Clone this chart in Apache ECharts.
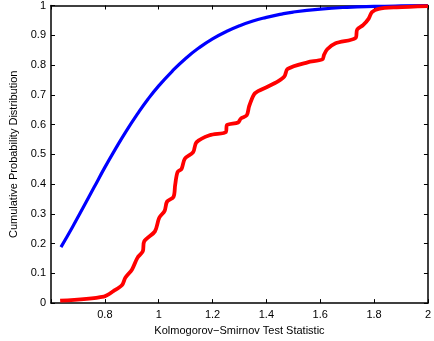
<!DOCTYPE html>
<html>
<head>
<meta charset="utf-8">
<script src="https://cdn.jsdelivr.net/npm/echarts@6/dist/echarts.min.js"></script>
<style>
html,body{margin:0;padding:0;background:#fff;}
#chart{width:434px;height:341px;}
</style>
</head>
<body>
<div id="chart"></div>
<script>
// Theoretical (blue) CDF: [statistic, cumulative probability]
var theoreticalX = [0.637,0.68,0.72,0.76,0.80,0.84,0.88,0.92,0.96,1.00,1.05,1.10,1.15,1.20,1.25,1.30,1.35,1.40,1.45,1.50,1.60,1.70,1.80,1.90,2.00];
var theoreticalY = [0.188,0.256,0.322,0.389,0.456,0.519,0.579,0.634,0.685,0.730,0.779,0.822,0.858,0.888,0.912,0.932,0.948,0.960,0.970,0.978,0.988,0.994,0.997,0.9986,0.9993];

// Empirical (red) CDF
var empiricalX = [0.634,0.796,0.833,0.864,0.876,0.901,0.921,0.941,0.946,0.986,1.002,1.022,1.031,1.055,1.061,1.070,1.085,1.097,1.128,1.140,1.189,1.250,1.253,1.295,1.305,1.327,1.336,1.354,1.369,1.406,1.443,1.467,1.479,1.553,1.608,1.614,1.626,1.657,1.731,1.737,1.759,1.780,1.792,1.817,1.884,2.0];
var empiricalY = [0.008,0.022,0.041,0.061,0.085,0.113,0.152,0.174,0.207,0.241,0.287,0.310,0.341,0.357,0.396,0.440,0.451,0.485,0.507,0.540,0.564,0.575,0.598,0.607,0.620,0.631,0.662,0.701,0.712,0.728,0.745,0.762,0.787,0.809,0.819,0.834,0.853,0.873,0.891,0.919,0.934,0.956,0.978,0.989,0.994,0.998];

var xTitle = 'Kolmogorov\u2212Smirnov Test Statistic';
var yTitle = 'Cumulative Probability Distribution';

function zip(a, b) { return a.map(function (v, i) { return [v, b[i]]; }); }

var font = 'Liberation Sans, Arial, Helvetica, sans-serif';
var axisLineStyle = { color: '#000', width: 1.5 };

var chart = echarts.init(document.getElementById('chart'), null, { renderer: 'canvas' });
chart.setOption({
  animation: false,
  backgroundColor: '#fff',
  grid: { left: 51, right: 2.5, top: 5, bottom: 35.3, containLabel: false },
  xAxis: [
    {
      type: 'value', min: 0.6, max: 2, interval: 0.2, position: 'bottom',
      name: xTitle, nameLocation: 'middle', nameGap: 16,
      nameTextStyle: { fontFamily: font, fontSize: 11, color: '#000' },
      axisLine: { show: true, onZero: false, lineStyle: axisLineStyle },
      axisTick: { show: true, inside: true, length: 4, lineStyle: { color: '#000' } },
      axisLabel: {
        fontFamily: font, fontSize: 11, color: '#000', margin: 6,
        formatter: function (v) { return v < 0.7 ? '' : String(+v.toFixed(1)); }
      },
      splitLine: { show: false }
    },
    {
      type: 'value', min: 0.6, max: 2, interval: 0.2, position: 'top',
      axisLine: { show: true, onZero: false, lineStyle: axisLineStyle },
      axisTick: { show: true, inside: true, length: 4, lineStyle: { color: '#000' } },
      axisLabel: { show: false },
      splitLine: { show: false }
    }
  ],
  yAxis: [
    {
      type: 'value', min: 0, max: 1, interval: 0.1, position: 'left',
      name: yTitle, nameLocation: 'middle', nameGap: 27, nameRotate: 90,
      nameTextStyle: { fontFamily: font, fontSize: 11, color: '#000' },
      axisLine: { show: true, onZero: false, lineStyle: axisLineStyle },
      axisTick: { show: true, inside: true, length: 4, lineStyle: { color: '#000' } },
      axisLabel: {
        fontFamily: font, fontSize: 11, color: '#000', margin: 5,
        formatter: function (v) { return String(+v.toFixed(1)); }
      },
      splitLine: { show: false }
    },
    {
      type: 'value', min: 0, max: 1, interval: 0.1, position: 'right',
      axisLine: { show: true, onZero: false, lineStyle: axisLineStyle },
      axisTick: { show: true, inside: true, length: 4, lineStyle: { color: '#000' } },
      axisLabel: { show: false },
      splitLine: { show: false }
    }
  ],
  series: [
    {
      type: 'line', name: 'Theoretical', xAxisIndex: 0, yAxisIndex: 0,
      data: zip(theoreticalX, theoreticalY), smooth: true, showSymbol: false,
      lineStyle: { color: '#0000ff', width: 3.2 }, z: 3
    },
    {
      type: 'line', name: 'Empirical', xAxisIndex: 0, yAxisIndex: 0,
      data: zip(empiricalX, empiricalY), smooth: 0.3, showSymbol: false,
      lineStyle: { color: '#ff0000', width: 3.8 }, z: 4
    }
  ]
});
</script>
</body>
</html>
